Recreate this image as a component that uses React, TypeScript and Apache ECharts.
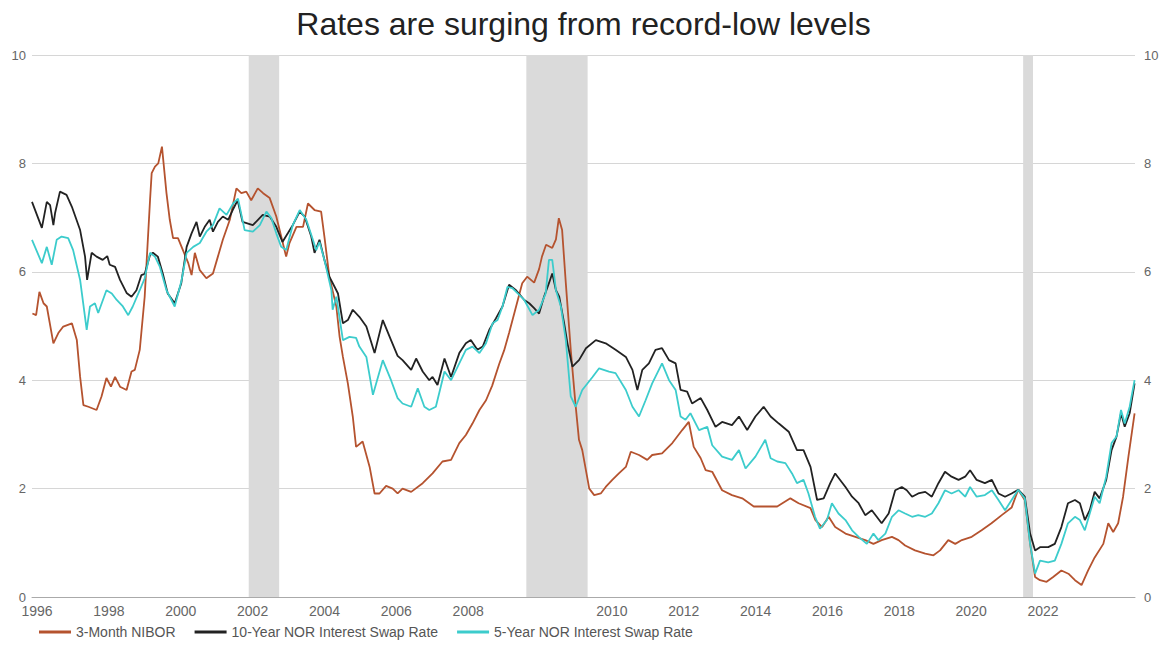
import React, { useEffect, useRef } from "react";
import * as echarts from "echarts";

const title = "Rates are surging from record-low levels";
const seriesNames = ["3-Month NIBOR", "10-Year NOR Interest Swap Rate", "5-Year NOR Interest Swap Rate"];
const xTickLabels = ["1996", "1998", "2000", "2002", "2004", "2006", "2008", "2010", "2012", "2014", "2016", "2018", "2020", "2022"];
const yTicks = { min: 0, max: 10, step: 2 };
const recessionStarts = [2001.22, 2007.97, 2020.05];
const recessionEnds = [2001.96, 2009.46, 2020.29];

const nibor: [number, number][] = [
  [1995.96, 5.23], [1996.05, 5.2], [1996.13, 5.63], [1996.23, 5.42], [1996.31, 5.36], [1996.47, 4.68],
  [1996.59, 4.87], [1996.71, 4.99], [1996.92, 5.05], [1997.04, 4.74], [1997.12, 4.06], [1997.2, 3.54],
  [1997.32, 3.51], [1997.52, 3.45], [1997.64, 3.7], [1997.76, 4.04], [1997.87, 3.88], [1997.97, 4.06],
  [1998.09, 3.88], [1998.25, 3.82], [1998.37, 4.16], [1998.45, 4.19], [1998.57, 4.56], [1998.69, 5.54],
  [1998.82, 7.32], [1998.86, 7.82], [1998.94, 7.94], [1999.02, 8.0], [1999.11, 8.31], [1999.22, 7.45],
  [1999.3, 6.96], [1999.38, 6.62], [1999.5, 6.62], [1999.62, 6.4], [1999.75, 6.16], [1999.83, 5.94],
  [1999.91, 6.35], [2000.03, 6.03], [2000.19, 5.88], [2000.35, 5.97], [2000.47, 6.28], [2000.59, 6.59],
  [2000.76, 6.96], [2000.92, 7.54], [2001.04, 7.45], [2001.16, 7.48], [2001.28, 7.32], [2001.44, 7.54],
  [2001.57, 7.45], [2001.73, 7.36], [2001.89, 7.02], [2002.01, 6.65], [2002.13, 6.28], [2002.21, 6.53],
  [2002.38, 6.83], [2002.54, 6.83], [2002.66, 7.26], [2002.82, 7.14], [2002.98, 7.11], [2003.06, 6.65],
  [2003.18, 5.91], [2003.35, 5.36], [2003.43, 4.8], [2003.51, 4.43], [2003.63, 3.94], [2003.75, 3.33],
  [2003.83, 2.77], [2003.99, 2.87], [2004.16, 2.4], [2004.28, 1.91], [2004.4, 1.91], [2004.56, 2.05],
  [2004.72, 2.0], [2004.84, 1.91], [2004.96, 2.0], [2005.17, 1.94], [2005.45, 2.1], [2005.69, 2.28],
  [2005.93, 2.5], [2006.14, 2.53], [2006.34, 2.84], [2006.5, 2.99], [2006.66, 3.2], [2006.83, 3.45],
  [2006.99, 3.63], [2007.14, 3.9], [2007.31, 4.3], [2007.43, 4.55], [2007.55, 4.87], [2007.7, 5.3],
  [2007.87, 5.79], [2007.99, 5.91], [2008.16, 5.8], [2008.28, 6.05], [2008.35, 6.28], [2008.45, 6.5],
  [2008.6, 6.44], [2008.69, 6.6], [2008.76, 6.99], [2008.84, 6.77], [2008.93, 5.79], [2009.05, 4.56],
  [2009.16, 3.6], [2009.25, 2.9], [2009.33, 2.71], [2009.5, 2.0], [2009.62, 1.88], [2009.78, 1.91],
  [2009.9, 2.03], [2010.06, 2.16], [2010.22, 2.28], [2010.39, 2.4], [2010.51, 2.68], [2010.71, 2.62],
  [2010.91, 2.53], [2011.03, 2.62], [2011.27, 2.65], [2011.52, 2.84], [2011.76, 3.08], [2011.92, 3.23],
  [2012.04, 2.77], [2012.21, 2.56], [2012.33, 2.34], [2012.49, 2.31], [2012.73, 1.97], [2012.97, 1.88],
  [2013.22, 1.82], [2013.5, 1.67], [2013.78, 1.67], [2014.07, 1.67], [2014.39, 1.82], [2014.59, 1.73],
  [2014.88, 1.64], [2015.0, 1.42], [2015.16, 1.29], [2015.32, 1.48], [2015.48, 1.29], [2015.73, 1.17],
  [2015.97, 1.11], [2016.21, 1.05], [2016.41, 0.98], [2016.61, 1.05], [2016.86, 1.11], [2017.02, 1.05],
  [2017.18, 0.95], [2017.42, 0.86], [2017.67, 0.8], [2017.87, 0.77], [2018.03, 0.86], [2018.23, 1.05],
  [2018.4, 0.98], [2018.56, 1.05], [2018.8, 1.11], [2019.04, 1.23], [2019.28, 1.36], [2019.53, 1.51],
  [2019.77, 1.65], [2019.93, 1.98], [2020.09, 1.79], [2020.22, 0.98], [2020.34, 0.37], [2020.46, 0.31],
  [2020.62, 0.28], [2020.78, 0.37], [2020.98, 0.49], [2021.15, 0.43], [2021.31, 0.31], [2021.47, 0.22],
  [2021.63, 0.49], [2021.79, 0.73], [2022.0, 0.98], [2022.12, 1.36], [2022.24, 1.2], [2022.36, 1.36],
  [2022.48, 1.85], [2022.61, 2.59], [2022.76, 3.39],
];

const swap10y: [number, number][] = [
  [1995.95, 7.29], [1996.19, 6.81], [1996.31, 7.29], [1996.39, 7.23], [1996.47, 6.86], [1996.51, 7.08],
  [1996.63, 7.48], [1996.79, 7.42], [1996.92, 7.2], [1997.12, 6.77], [1997.24, 6.28], [1997.29, 5.85],
  [1997.4, 6.35], [1997.52, 6.28], [1997.67, 6.22], [1997.78, 6.29], [1997.84, 6.13], [1997.97, 6.09],
  [1998.09, 5.85], [1998.25, 5.61], [1998.37, 5.54], [1998.49, 5.66], [1998.61, 5.94], [1998.69, 5.96],
  [1998.82, 6.31], [1998.89, 6.35], [1999.01, 6.28], [1999.13, 5.97], [1999.25, 5.6], [1999.42, 5.42],
  [1999.58, 5.79], [1999.71, 6.46], [1999.83, 6.71], [1999.95, 6.92], [2000.03, 6.65], [2000.15, 6.83],
  [2000.27, 6.96], [2000.35, 6.74], [2000.47, 6.92], [2000.59, 7.02], [2000.72, 6.96], [2000.83, 7.14],
  [2000.95, 7.32], [2001.07, 6.92], [2001.32, 6.86], [2001.56, 7.05], [2001.73, 7.02], [2001.89, 6.83],
  [2002.04, 6.55], [2002.17, 6.71], [2002.29, 6.86], [2002.46, 7.11], [2002.58, 7.02], [2002.74, 6.65],
  [2002.82, 6.35], [2002.94, 6.59], [2003.06, 6.22], [2003.18, 5.91], [2003.31, 5.72], [2003.39, 5.6],
  [2003.51, 5.05], [2003.63, 5.11], [2003.75, 5.3], [2003.91, 5.17], [2004.08, 4.99], [2004.28, 4.5],
  [2004.48, 5.11], [2004.68, 4.74], [2004.84, 4.45], [2004.96, 4.37], [2005.17, 4.19], [2005.29, 4.4],
  [2005.45, 4.16], [2005.61, 4.0], [2005.69, 4.06], [2005.81, 3.91], [2005.98, 4.4], [2006.14, 4.06],
  [2006.34, 4.5], [2006.5, 4.68], [2006.62, 4.74], [2006.78, 4.56], [2006.91, 4.62], [2007.07, 4.93],
  [2007.23, 5.14], [2007.39, 5.36], [2007.55, 5.76], [2007.72, 5.66], [2007.92, 5.48], [2008.04, 5.42],
  [2008.16, 5.33], [2008.28, 5.23], [2008.4, 5.54], [2008.52, 5.79], [2008.6, 5.97], [2008.69, 5.66],
  [2008.77, 5.54], [2008.89, 5.05], [2008.97, 4.68], [2009.09, 4.25], [2009.25, 4.37], [2009.42, 4.59],
  [2009.66, 4.74], [2009.9, 4.68], [2010.14, 4.56], [2010.39, 4.43], [2010.55, 4.19], [2010.67, 3.82],
  [2010.79, 4.19], [2010.95, 4.31], [2011.11, 4.56], [2011.27, 4.59], [2011.44, 4.37], [2011.6, 4.31],
  [2011.72, 3.82], [2011.88, 3.79], [2012.0, 3.57], [2012.21, 3.67], [2012.37, 3.45], [2012.57, 3.14],
  [2012.73, 3.23], [2012.97, 3.17], [2013.14, 3.33], [2013.34, 3.08], [2013.54, 3.33], [2013.74, 3.51],
  [2013.91, 3.33], [2014.11, 3.2], [2014.35, 3.05], [2014.55, 2.71], [2014.71, 2.71], [2014.88, 2.4],
  [2015.04, 1.79], [2015.2, 1.82], [2015.36, 2.1], [2015.48, 2.28], [2015.6, 2.16], [2015.73, 2.03],
  [2015.89, 1.85], [2016.05, 1.73], [2016.21, 1.51], [2016.37, 1.6], [2016.49, 1.48], [2016.61, 1.36],
  [2016.78, 1.54], [2016.94, 1.97], [2017.1, 2.03], [2017.22, 1.97], [2017.35, 1.85], [2017.5, 1.91],
  [2017.67, 1.94], [2017.83, 1.85], [2017.99, 2.1], [2018.15, 2.31], [2018.31, 2.22], [2018.48, 2.16],
  [2018.64, 2.22], [2018.76, 2.34], [2018.92, 2.16], [2019.12, 2.1], [2019.29, 2.16], [2019.45, 1.91],
  [2019.61, 1.85], [2019.77, 1.91], [2019.93, 1.98], [2020.09, 1.85], [2020.22, 1.17], [2020.34, 0.86],
  [2020.46, 0.92], [2020.66, 0.92], [2020.82, 0.98], [2020.98, 1.29], [2021.14, 1.73], [2021.31, 1.79],
  [2021.43, 1.73], [2021.55, 1.42], [2021.67, 1.6], [2021.79, 1.94], [2021.91, 1.82], [2022.07, 2.16],
  [2022.2, 2.71], [2022.32, 2.96], [2022.43, 3.39], [2022.52, 3.14], [2022.64, 3.39], [2022.76, 3.94],
];

const swap5y: [number, number][] = [
  [1995.95, 6.59], [1996.19, 6.16], [1996.31, 6.46], [1996.43, 6.13], [1996.55, 6.59], [1996.67, 6.65],
  [1996.83, 6.62], [1996.95, 6.4], [1997.12, 5.85], [1997.28, 4.93], [1997.36, 5.36], [1997.48, 5.42],
  [1997.56, 5.24], [1997.76, 5.66], [1997.89, 5.6], [1998.01, 5.48], [1998.16, 5.36], [1998.29, 5.2],
  [1998.4, 5.36], [1998.57, 5.66], [1998.69, 5.88], [1998.82, 6.35], [1998.94, 6.28], [1999.06, 6.09],
  [1999.22, 5.66], [1999.42, 5.36], [1999.58, 5.82], [1999.71, 6.35], [1999.87, 6.46], [2000.03, 6.53],
  [2000.19, 6.74], [2000.35, 6.86], [2000.51, 7.17], [2000.68, 7.05], [2000.84, 7.26], [2000.96, 7.35],
  [2001.12, 6.77], [2001.32, 6.74], [2001.49, 6.86], [2001.65, 7.11], [2001.77, 6.99], [2001.89, 6.71],
  [2002.01, 6.46], [2002.13, 6.4], [2002.29, 6.86], [2002.46, 7.14], [2002.62, 6.96], [2002.78, 6.59],
  [2002.86, 6.4], [2002.94, 6.55], [2003.06, 6.22], [2003.23, 5.66], [2003.26, 5.3], [2003.35, 5.54],
  [2003.51, 4.74], [2003.67, 4.8], [2003.83, 4.78], [2003.91, 4.62], [2004.08, 4.43], [2004.24, 3.73],
  [2004.48, 4.37], [2004.68, 4.0], [2004.84, 3.67], [2004.96, 3.57], [2005.17, 3.51], [2005.33, 3.85],
  [2005.49, 3.51], [2005.61, 3.45], [2005.77, 3.51], [2005.98, 4.16], [2006.14, 4.0], [2006.34, 4.31],
  [2006.5, 4.56], [2006.66, 4.62], [2006.83, 4.5], [2006.99, 4.68], [2007.15, 5.05], [2007.27, 5.11],
  [2007.39, 5.36], [2007.51, 5.72], [2007.63, 5.7], [2007.76, 5.6], [2007.92, 5.48], [2008.12, 5.2],
  [2008.28, 5.3], [2008.44, 5.6], [2008.52, 6.22], [2008.6, 6.22], [2008.69, 5.66], [2008.81, 5.36],
  [2008.93, 4.74], [2009.05, 3.7], [2009.17, 3.51], [2009.33, 3.82], [2009.58, 4.06], [2009.74, 4.22],
  [2009.98, 4.16], [2010.14, 4.13], [2010.39, 3.82], [2010.55, 3.51], [2010.71, 3.33], [2010.87, 3.63],
  [2011.03, 3.94], [2011.27, 4.31], [2011.44, 4.0], [2011.6, 3.82], [2011.72, 3.33], [2011.84, 3.27],
  [2011.96, 3.39], [2012.17, 3.08], [2012.37, 3.14], [2012.49, 2.8], [2012.73, 2.59], [2012.97, 2.53],
  [2013.14, 2.71], [2013.3, 2.37], [2013.54, 2.59], [2013.78, 2.9], [2013.91, 2.56], [2014.07, 2.5],
  [2014.27, 2.47], [2014.43, 2.28], [2014.55, 2.1], [2014.71, 2.16], [2014.83, 1.91], [2014.99, 1.48],
  [2015.11, 1.26], [2015.28, 1.42], [2015.4, 1.73], [2015.56, 1.54], [2015.73, 1.42], [2015.89, 1.23],
  [2016.05, 1.11], [2016.25, 0.98], [2016.41, 1.17], [2016.53, 1.05], [2016.7, 1.17], [2016.86, 1.48],
  [2017.02, 1.6], [2017.18, 1.54], [2017.35, 1.48], [2017.5, 1.51], [2017.67, 1.48], [2017.83, 1.54],
  [2017.99, 1.73], [2018.15, 1.97], [2018.31, 1.91], [2018.48, 1.97], [2018.64, 1.85], [2018.76, 2.03],
  [2018.92, 1.85], [2019.12, 1.88], [2019.29, 1.97], [2019.45, 1.79], [2019.61, 1.6], [2019.77, 1.79],
  [2019.93, 1.98], [2020.09, 1.82], [2020.22, 0.98], [2020.34, 0.43], [2020.46, 0.67], [2020.66, 0.64],
  [2020.82, 0.67], [2020.98, 0.98], [2021.14, 1.36], [2021.31, 1.48], [2021.43, 1.42], [2021.55, 1.23],
  [2021.67, 1.54], [2021.79, 1.85], [2021.91, 1.73], [2022.07, 2.22], [2022.2, 2.84], [2022.32, 2.96],
  [2022.43, 3.45], [2022.52, 3.2], [2022.64, 3.51], [2022.76, 4.0],
];

const colors = ["#b5532f", "#222222", "#3ccccc"];
const FONT = "'Liberation Sans', Arial, sans-serif";

export default function App() {
  const ref = useRef<HTMLDivElement>(null);
  useEffect(() => {
    if (!ref.current) return;
    const chart = echarts.init(ref.current, undefined, { renderer: "svg" });
    const labelSlots = xTickLabels.map((_, i) => (i < 7 ? i : i + 1));
    const recessions = recessionStarts.map((s, i) => [{ xAxis: s }, { xAxis: recessionEnds[i] }]);
    const datasets = [nibor, swap10y, swap5y];
    chart.setOption({
      animation: false,
      backgroundColor: "#ffffff",
      textStyle: { fontFamily: FONT },
      title: {
        text: title,
        left: "center",
        top: 3,
        textStyle: { fontFamily: FONT, fontSize: 32, fontWeight: "normal", color: "#222" },
      },
      legend: {
        bottom: 6,
        left: 34,
        itemGap: 19,
        itemWidth: 32,
        itemHeight: 3,
        icon: "rect",
        textStyle: { fontFamily: FONT, fontSize: 14, color: "#555" },
        data: seriesNames,
      },
      grid: { left: 32, right: 32, top: 55, bottom: 53, containLabel: false },
      xAxis: [
        {
          type: "value",
          min: 1995.95,
          max: 2022.77,
          axisLine: { show: true, onZero: false, lineStyle: { color: "#aaaaaa", width: 1 } },
          axisTick: { show: false },
          axisLabel: { show: false },
          splitLine: { show: false },
        },
        {
          type: "value",
          position: "bottom",
          min: -0.07,
          max: 15.28,
          axisLine: { show: false },
          axisTick: { show: false },
          splitLine: { show: false },
          axisLabel: {
            customValues: labelSlots,
            margin: 7,
            fontFamily: FONT,
            fontSize: 14,
            color: "#666",
            formatter: (v: number) => {
              const s = Math.round(v);
              const i = s < 7 ? s : s - 1;
              return xTickLabels[i] ?? "";
            },
          },
        },
      ],
      yAxis: [
        {
          type: "value",
          position: "left",
          min: yTicks.min,
          max: yTicks.max,
          interval: yTicks.step,
          axisLine: { show: false },
          axisTick: { show: false },
          axisLabel: { margin: 6, fontFamily: FONT, fontSize: 13, color: "#666" },
          splitLine: { show: true, lineStyle: { color: "#d6d6d6", width: 1 } },
        },
        {
          type: "value",
          position: "right",
          min: yTicks.min,
          max: yTicks.max,
          interval: yTicks.step,
          axisLine: { show: false },
          axisTick: { show: false },
          axisLabel: { margin: 9, fontFamily: FONT, fontSize: 13, color: "#666" },
          splitLine: { show: false },
        },
      ],
      series: datasets.map((d, i) => ({
        name: seriesNames[i],
        type: "line",
        xAxisIndex: 0,
        yAxisIndex: 0,
        data: d,
        showSymbol: false,
        symbol: "none",
        z: 2 + i,
        lineStyle: { color: colors[i], width: 1.8 },
        itemStyle: { color: colors[i] },
        markArea:
          i === 0
            ? {
                silent: true,
                z: 1,
                itemStyle: { color: "#dadada" },
                data: recessions,
              }
            : undefined,
      })),
    });
    return () => chart.dispose();
  }, []);
  return (
    <div
      ref={ref}
      style={{ position: "fixed", left: 0, top: 0, width: 1167, height: 650, background: "#fff" }}
    />
  );
}
